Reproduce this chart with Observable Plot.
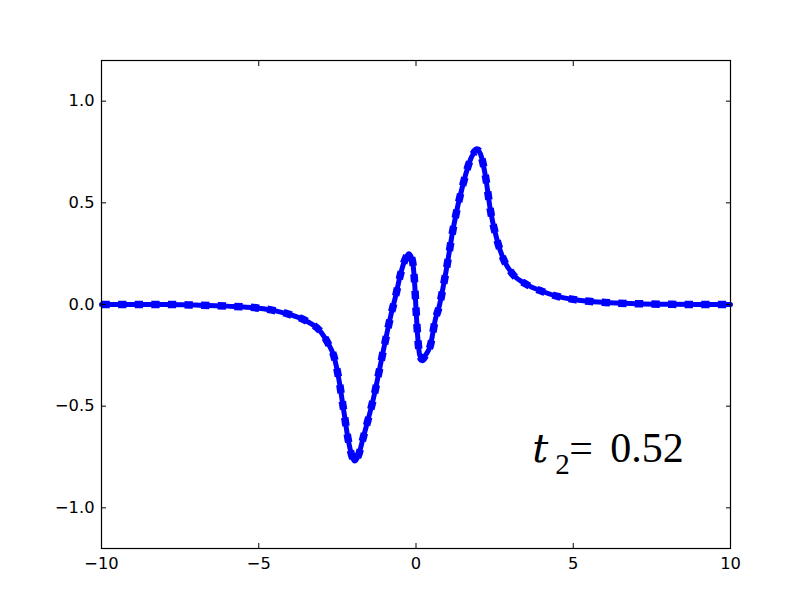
<!DOCTYPE html>
<html>
<head>
<meta charset="utf-8">
<script src="https://cdn.jsdelivr.net/npm/d3@7"></script>
<script src="https://cdn.jsdelivr.net/npm/@observablehq/plot@0.6"></script>
<style>
  html, body { margin: 0; padding: 0; background: white; }
</style>
</head>
<body>
<div id="chart"></div>
<script>
const xs = [-10, -9, -8, -7, -6, -5, -4.5, -4, -3.5, -3.0, -2.8, -2.6, -2.45, -2.3, -2.15, -2.0, -1.95, -1.85, -1.67, -1.35, -1.03, -0.81, -0.65, -0.49, -0.35, -0.23, -0.12, -0.05, 0.0, 0.05, 0.12, 0.2, 0.3, 0.46, 0.62, 0.72, 0.94, 1.19, 1.51, 1.75, 1.95, 2.05, 2.21, 2.37, 2.59, 2.79, 3.07, 3.5, 4, 4.5, 5, 6, 7, 8, 9, 10];
const ys = [0, 0, 0, -0.003, -0.008, -0.018, -0.03, -0.05, -0.08, -0.14, -0.19, -0.26, -0.37, -0.52, -0.67, -0.76, -0.77, -0.75, -0.65, -0.46, -0.22, -0.06, 0.04, 0.15, 0.22, 0.25, 0.22, 0.12, -0.02, -0.15, -0.25, -0.27, -0.25, -0.2, -0.07, -0.02, 0.15, 0.38, 0.6, 0.72, 0.76, 0.74, 0.63, 0.46, 0.31, 0.22, 0.15, 0.1, 0.065, 0.04, 0.025, 0.01, 0.004, 0.001, 0, 0];
const xTicks = [-10, -5, 0, 5, 10];
const yTicks = [-1.0, -0.5, 0.0, 0.5, 1.0];
const annotation = [{x: 3.7, y: -0.777}];

const data = xs.map((x, i) => ({x, y: ys[i]}));
const fmtY = d3.format(".1f");

const chart = Plot.plot({
  width: 812,
  height: 612,
  marginLeft: 101,
  marginRight: 82,
  marginTop: 60,
  marginBottom: 64,
  style: {fontFamily: "DejaVu Sans", fontSize: "16.3px", background: "white", color: "black"},
  x: {domain: [-10, 10]},
  y: {domain: [-1.2, 1.2]},
  marks: [
    Plot.line(data, {x: "x", y: "y", stroke: "#0000ff", strokeWidth: 5, curve: "monotone-x"}),
    Plot.line(data, {x: "x", y: "y", stroke: "#0000ff", strokeWidth: 7.5, strokeDasharray: "8.3,8.3", strokeLinecap: "butt", curve: "monotone-x"}),
    Plot.axisX({anchor: "bottom", ticks: xTicks, tickSize: -5, tickPadding: 14, label: null, tickFormat: d => d3.format("d")(d)}),
    Plot.axisX({anchor: "top", ticks: xTicks, tickSize: -5, label: null, tickFormat: () => ""}),
    Plot.axisY({anchor: "left", ticks: yTicks, tickSize: -5, tickPadding: 12, label: null, tickFormat: fmtY}),
    Plot.axisY({anchor: "right", ticks: yTicks, tickSize: -5, label: null, tickFormat: () => ""}),
    Plot.frame({stroke: "black", strokeWidth: 1.2}),
    Plot.text(annotation, {x: "x", y: "y", text: () => "t", fontFamily: "DejaVu Serif", fontStyle: "italic", fontSize: 40, textAnchor: "start", lineAnchor: "bottom", dx: 0}),
    Plot.text(annotation, {x: "x", y: "y", text: () => "2", fontFamily: "Liberation Serif", fontSize: 29, textAnchor: "start", lineAnchor: "bottom", dx: 23, dy: 12}),
    Plot.text(annotation, {x: "x", y: "y", text: () => "=", fontFamily: "Liberation Serif", fontSize: 42, textAnchor: "start", lineAnchor: "bottom", dx: 37}),
    Plot.text(annotation, {x: "x", y: "y", text: () => "0.52", fontFamily: "Liberation Serif", fontSize: 42, textAnchor: "start", lineAnchor: "bottom", dx: 78})
  ]
});
document.getElementById("chart").appendChild(chart);
</script>
</body>
</html>
